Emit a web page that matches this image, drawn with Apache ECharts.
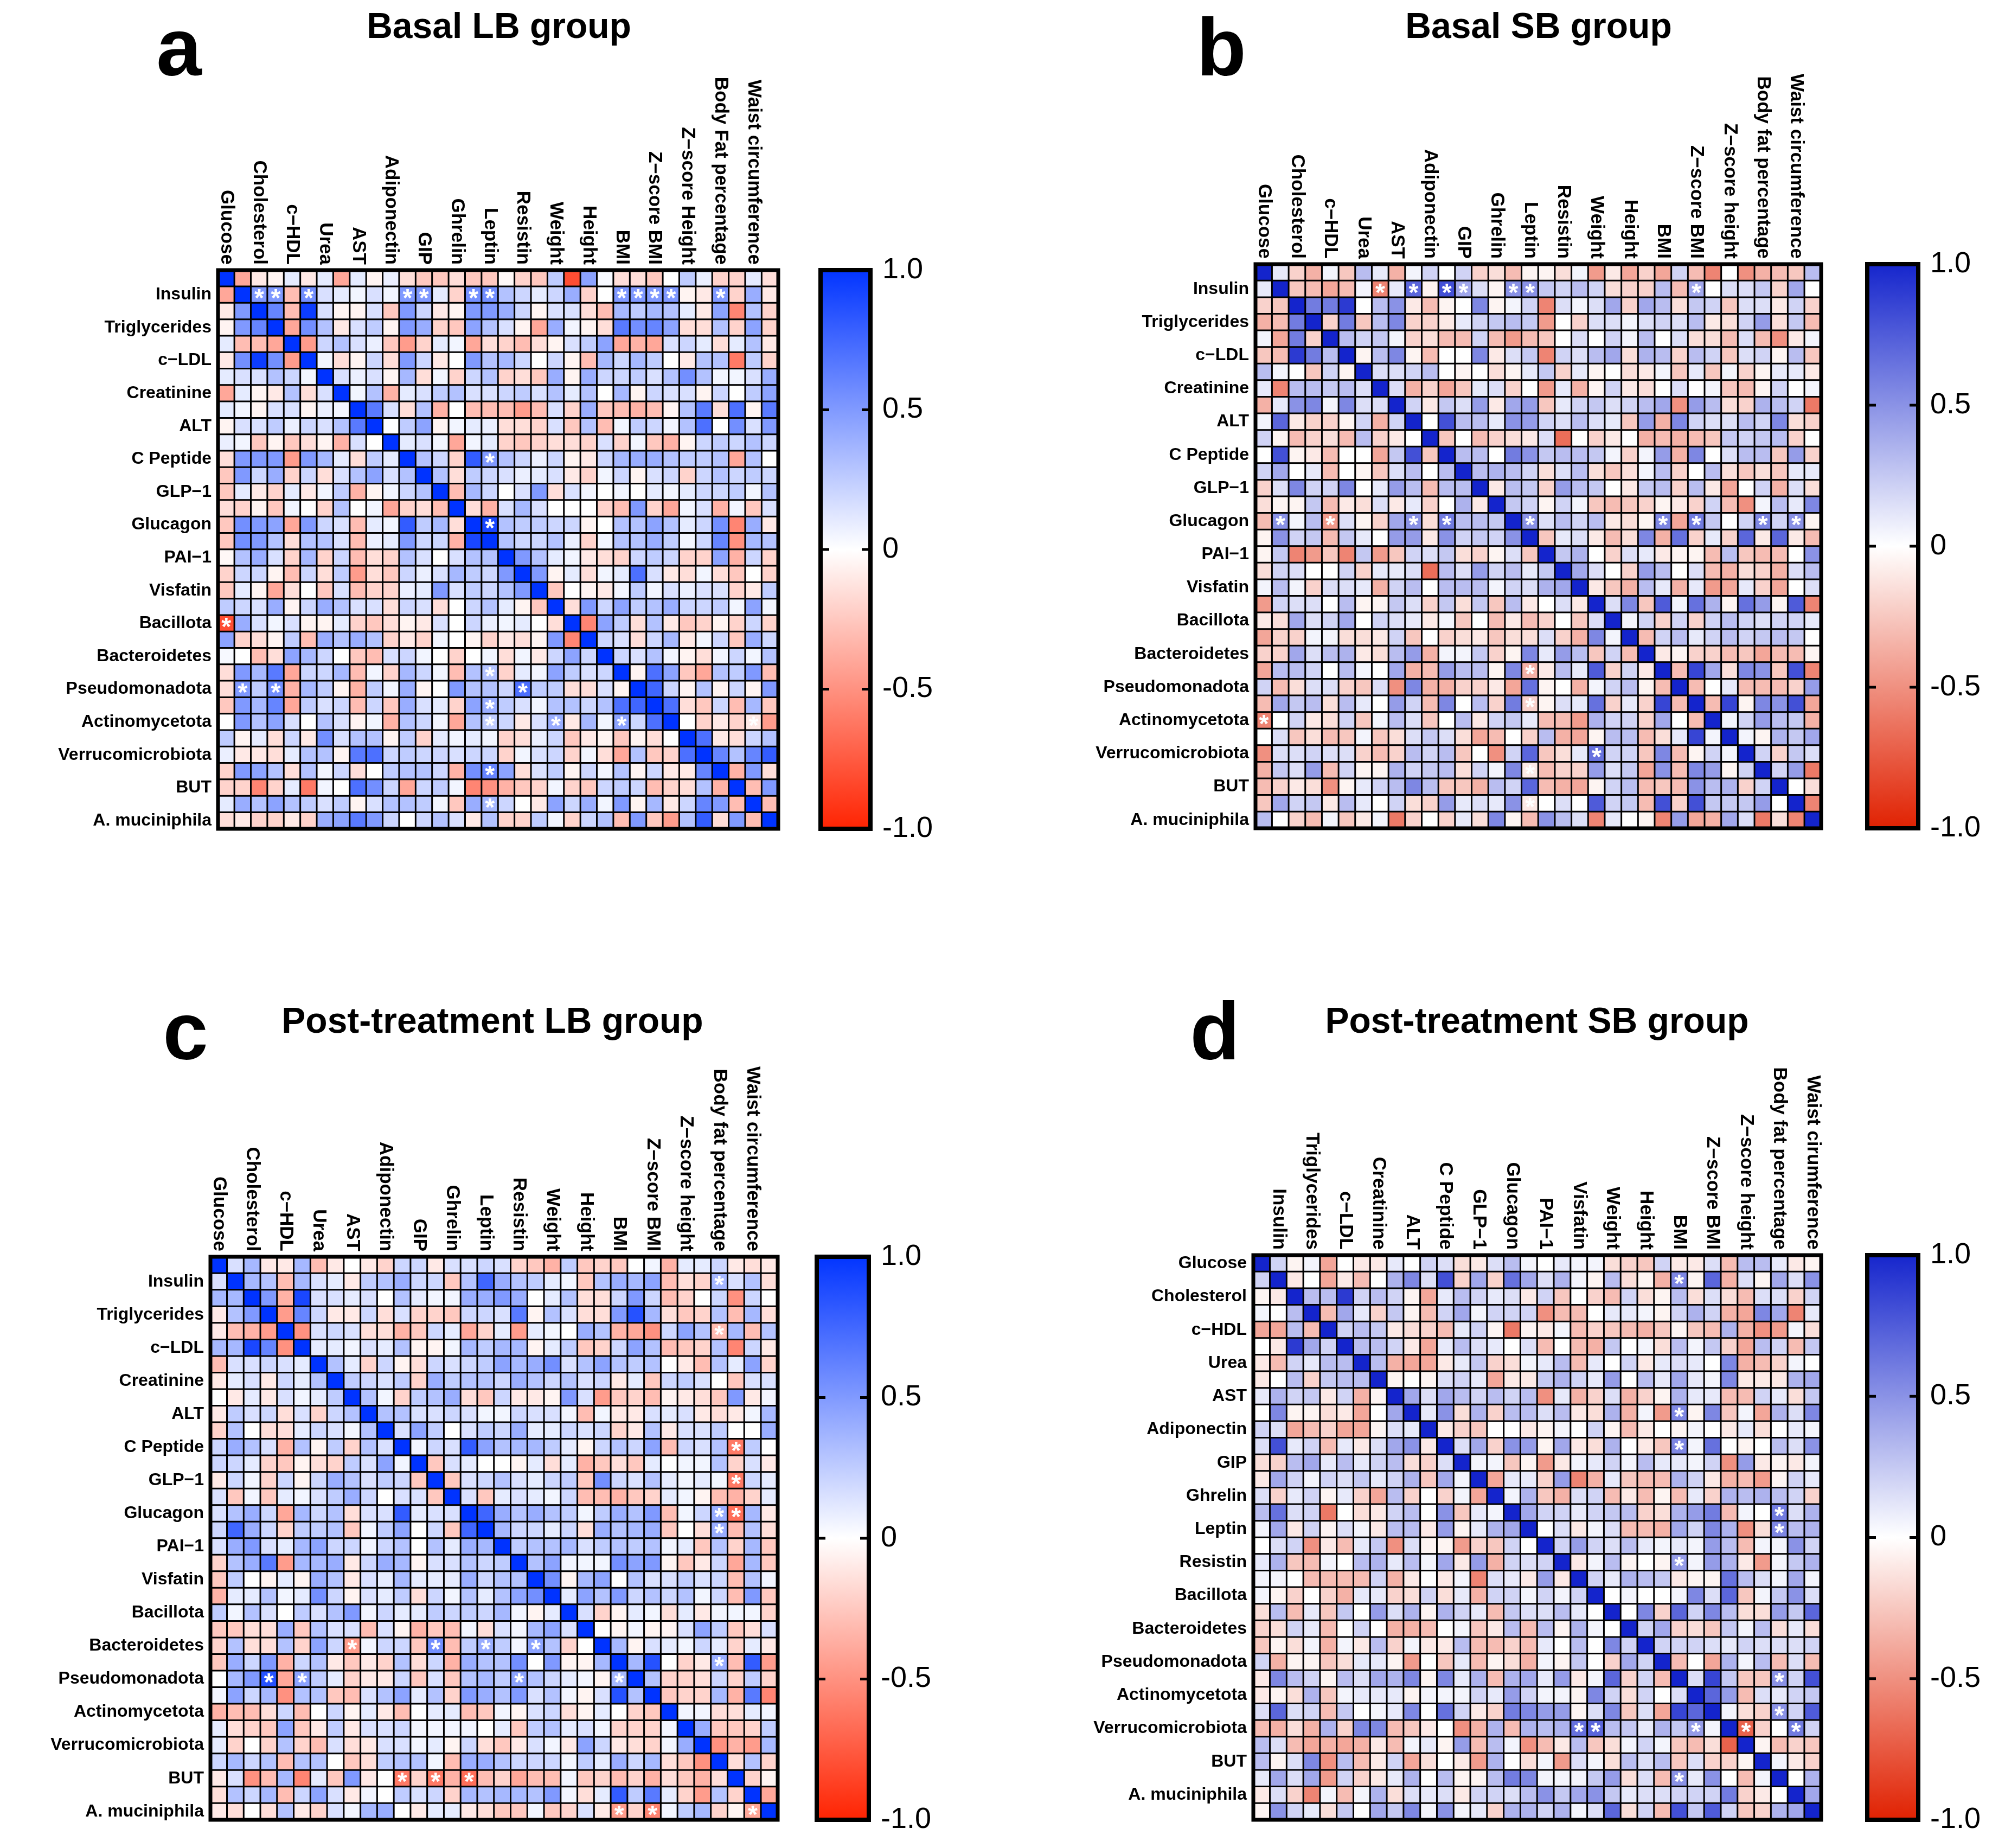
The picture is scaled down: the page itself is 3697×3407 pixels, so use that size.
<!DOCTYPE html>
<html>
<head>
<meta charset="utf-8">
<script src="https://cdn.jsdelivr.net/npm/echarts@6/dist/echarts.min.js"></script>
<style>
  html, body { margin: 0; padding: 0; background: #fff; }
  #chart { width: 3697px; height: 3407px; }
</style>
</head>
<body>
<div id="chart"></div>
<script>
// variable order (rows and columns share it); panels a-c and panel d
const varsA = ['Glucose', 'Insulin', 'Cholesterol', 'Triglycerides', 'c\u2212HDL', 'c\u2212LDL', 'Urea', 'Creatinine',
  'AST', 'ALT', 'Adiponectin', 'C Peptide', 'GIP', 'GLP\u22121', 'Ghrelin', 'Glucagon', 'Leptin', 'PAI\u22121',
  'Resistin', 'Visfatin', 'Weight', 'Bacillota', 'Height', 'Bacteroidetes', 'BMI', 'Pseudomonadota',
  'Z\u2212score BMI', 'Actinomycetota', 'Z\u2212score Height', 'Verrucomicrobiota', 'Body Fat percentage', 'BUT',
  'Waist circumference', 'A. muciniphila'];
const varsBC = varsA.map(function (v) {
  return v === 'Z\u2212score Height' ? 'Z\u2212score height' : (v === 'Body Fat percentage' ? 'Body fat percentage' : v);
});
const varsD = ['Glucose', 'Insulin', 'Cholesterol', 'Triglycerides', 'c\u2212HDL', 'c\u2212LDL', 'Urea', 'Creatinine',
  'AST', 'ALT', 'Adiponectin', 'C Peptide', 'GIP', 'GLP\u22121', 'Ghrelin', 'Glucagon', 'Leptin', 'PAI\u22121',
  'Resistin', 'Visfatin', 'Bacillota', 'Weight', 'Bacteroidetes', 'Height', 'Pseudomonadota', 'BMI',
  'Actinomycetota', 'Z\u2212score BMI', 'Verrucomicrobiota', 'Z\u2212score height', 'BUT', 'Body fat percentage',
  'A. muciniphila', 'Waist cirumference'];

const colorbarTicks = ['1.0', '0.5', '0', '-0.5', '-1.0'];

// upper triangle of each correlation matrix: row r holds columns r+1 .. 33
const upperA = [
  [-0.4,-0.1,-0.05,0.1,-0.1,0.1,-0.4,0.1,-0.05,0.08,-0.15,-0.25,-0.25,-0.15,-0.25,-0.25,-0.03,-0.2,-0.25,0.25,-0.8,0.45,0.03,-0.15,-0.15,-0.25,0,0.25,0.08,-0.2,-0.2,0.1,-0.15],
  [0.5,0.5,-0.3,0.55,0.15,0.1,0.05,0.15,0.05,0.5,0.5,0.1,-0.2,0.55,0.55,0.3,0.2,0.1,0.2,0.4,-0.2,0,0.5,0.5,0.5,0.5,-0.05,-0.1,0.5,-0.2,0.4,-0.1],
  [0.6,-0.3,0.95,0.15,-0.05,-0.05,0.15,-0.25,0.5,0.2,-0.1,-0.05,0.5,0.5,0.4,0.2,-0.05,0.15,0.15,-0.15,-0.3,0.35,0.25,0.35,0.3,0.1,-0.1,0.45,-0.55,0.3,-0.2],
  [-0.4,0.55,0.3,-0.1,0.15,0.25,-0.05,0.5,0.4,-0.2,-0.25,0.45,0.3,0.15,-0.05,-0.4,0.4,0.05,-0.05,-0.15,0.65,0.55,0.6,0.45,-0.15,-0.15,0.3,-0.2,0.45,-0.2],
  [-0.45,0.2,0.3,0.15,0.08,-0.25,-0.45,-0.2,0.1,0.05,-0.4,-0.15,-0.2,-0.3,-0.15,-0.05,0.15,0.25,0.45,-0.4,-0.35,-0.4,0.15,0.2,0.1,-0.15,0.1,0.3,-0.1],
  [0.05,-0.15,-0.05,0.2,-0.15,0.5,0.2,-0.1,0,0.5,0.3,0.35,0.2,0,0.2,-0.05,-0.3,0.35,0.2,0.35,0.25,0,-0.1,0.3,0.3,-0.6,0.25,-0.2],
  [0.15,0.08,0.15,-0.05,0.35,-0.15,0.05,-0.2,0.2,0.3,-0.2,-0.15,-0.25,0.4,-0.05,0.4,0.2,0.2,0.25,0.15,0.3,0.55,0.3,0.05,0.05,0.15,0.4],
  [0.05,0.3,-0.35,0.1,0.15,0.25,0.3,0.15,0.15,0.2,0.25,0.15,0.3,0.1,0.3,0,0.35,-0.05,0.2,0.15,0.15,-0.05,0.2,0,0.25,0.45],
  [0.65,0.15,-0.15,0.3,-0.35,0,-0.3,-0.3,-0.3,-0.45,-0.3,0.15,-0.2,0.4,-0.25,-0.3,-0.35,-0.3,-0.05,0.3,0.65,-0.15,0.7,-0.05,0.65],
  [0,0.25,0.45,-0.05,0.05,0.1,0.08,-0.15,-0.15,-0.2,0.15,-0.25,0.3,-0.3,0.05,0.25,0.2,0.05,0.3,0.7,0,0.55,0.15,0.5],
  [0.1,0.15,0.05,-0.4,0.05,0.1,-0.2,-0.25,-0.2,-0.15,-0.15,-0.2,0.15,-0.2,0.05,-0.25,-0.35,-0.05,0.2,0.25,0.2,0.3,0.2],
  [0.3,0.2,-0.2,0.8,0.5,0.3,0.2,0.08,0.2,-0.05,-0.1,0.2,0.35,0.4,0.4,0.3,0.25,0.25,0.3,-0.4,0.3,0],
  [0.3,-0.15,0.25,0.2,0.15,0.08,0.1,0.15,-0.1,-0.2,0.05,0.2,-0.05,0.15,0.2,-0.2,0.2,0.3,0.2,0.25,0.2],
  [-0.3,0.35,0.2,0,0.15,0.5,-0.15,0.15,0.05,0,0.05,0,0.1,0.05,0.1,0.2,0.2,0.25,0.05,0.3],
  [-0.15,-0.35,0.15,0.35,0.15,0,0,0,-0.2,-0.3,0.5,-0.2,-0.4,0.05,0.15,-0.35,0.05,-0.25,0.15],
  [0.9,0.3,0.25,0.25,0.2,0.2,-0.05,0,0.3,0.3,0.45,0.3,0.1,0.2,0.55,-0.55,0.4,-0.1],
  [0.3,0.2,0.2,0.3,0.08,-0.2,0.05,0.3,0.3,0.4,0.25,0.05,0.2,0.6,-0.5,0.35,0.3],
  [0.5,0.3,0.1,0.05,-0.1,-0.15,-0.2,0.2,0.25,0.2,-0.2,-0.2,0.45,-0.35,0.2,-0.2],
  [0.5,-0.05,0.1,-0.15,0.05,0.1,0.7,0.15,-0.1,-0.15,0.05,-0.15,-0.25,0,-0.2],
  [-0.25,0,-0.05,-0.1,0.05,0.25,0.05,0.15,0.08,0.15,0.15,-0.2,-0.1,0.25],
  [-0.15,0.5,0.2,0.45,0.25,0.3,0.4,0.2,0.2,0.25,0.05,0.45,0.05],
  [-0.55,0.45,0.25,-0.15,0.3,-0.1,-0.25,-0.2,-0.05,-0.2,0.2,-0.2],
  [0.2,0.15,-0.15,0.2,0.35,-0.1,0.05,0.2,-0.25,0.4,0.2],
  [0.2,0.15,0.3,0.05,-0.05,-0.15,0.05,0.2,0.05,0.3],
  [-0.05,0.7,0.45,-0.25,-0.4,0.3,0.25,0.5,-0.3],
  [0.75,0.2,-0.05,0.3,-0.05,0.2,-0.05,0.5],
  [0.7,-0.15,-0.25,0.2,-0.3,0.35,-0.25],
  [0,-0.2,-0.1,-0.2,-0.1,-0.45],
  [0.7,-0.1,-0.15,0.2,0.3],
  [0.6,0.3,0.6,0.8],
  [-0.35,0.5,-0.15],
  [-0.3,0.5],
  [-0.3]
];
const upperB = [
  [0.1,-0.2,-0.35,0.05,-0.25,0.3,0.1,-0.35,0.05,0.2,0,0.2,-0.2,-0.15,-0.3,-0.05,-0.05,-0.15,0.05,-0.45,-0.1,-0.4,-0.2,-0.4,0.2,-0.3,-0.55,0,-0.5,-0.35,-0.3,-0.25,0.3],
  [-0.25,-0.3,-0.4,-0.3,0.05,-0.55,0.1,0.7,-0.05,0.8,0.4,0.15,-0.05,0.5,0.5,0.25,0.2,0.3,0.2,-0.15,-0.2,-0.2,0.3,-0.3,0.4,0,0.15,0.15,0.25,-0.2,0.4,0],
  [0.6,0.6,0.9,0,0.3,0.5,-0.1,-0.3,-0.05,0,0.55,-0.05,0.05,0.2,-0.55,0.15,0.05,0.15,0.4,-0.2,0.4,0.3,-0.15,0.25,0.2,-0.25,0.15,0.15,-0.1,0.2,-0.2],
  [-0.2,0.6,-0.25,0.3,0.55,-0.2,-0.2,-0.1,0.1,0.2,0.25,0.3,0.25,-0.45,0,-0.2,0.15,0.15,0.05,0.15,0.2,0.15,0.3,-0.1,-0.15,0.2,0.45,-0.15,0.25,-0.3],
  [0.3,0.2,0.25,0.05,-0.2,-0.15,-0.3,-0.3,0.2,-0.3,-0.45,-0.3,-0.25,0,0.15,0,0.2,0.05,0.3,0,0.15,-0.15,-0.15,-0.3,0.15,-0.3,-0.5,-0.1,0.05],
  [-0.05,0.3,0.55,-0.05,-0.3,0,0,0.55,-0.1,0.15,0.25,-0.55,0.2,0.15,0.3,0.4,-0.15,0.35,0.3,-0.2,0.3,0.2,-0.25,0.15,0.2,-0.05,0.3,-0.25],
  [0.15,0.15,0.2,0.3,0,-0.05,0,-0.15,-0.05,0.1,0.25,-0.2,0.1,-0.05,0,-0.15,-0.1,0.05,-0.25,0.1,-0.25,0.05,-0.2,-0.05,0.1,0.1,-0.1],
  [0.15,-0.35,-0.2,-0.4,-0.25,0.1,0.15,-0.2,0,-0.45,0.1,-0.35,-0.05,0.2,-0.1,-0.15,0,0.15,0,0.05,-0.25,-0.3,-0.05,0.2,0,0.05],
  [0.2,-0.1,0.25,0.15,0.45,-0.1,0.4,0.45,-0.25,0.1,0.2,0.25,0.15,0.2,0.3,0.4,-0.5,0.45,0.3,-0.15,-0.2,0.35,0.3,0.2,-0.6],
  [0,0.8,0.3,0.3,0.1,0.5,0.45,0.2,0.15,0.3,0.15,0.1,-0.25,0.45,-0.35,0.55,0.2,0.15,0.15,0.3,0.2,0.55,-0.15,-0.2],
  [-0.25,0,-0.3,-0.2,-0.15,-0.1,0.15,-0.65,0,-0.2,-0.1,0,-0.35,-0.3,-0.35,-0.3,-0.25,0.25,0.2,0.25,0.3,-0.2,0],
  [0.3,0.3,0,0.6,0.5,0.25,0.3,0.3,0.25,0.05,-0.2,0.05,0.45,-0.35,0.55,0,0.15,0.3,0.3,-0.25,0.45,-0.2],
  [0.3,0.35,0.3,0.2,-0.15,0.15,0.3,-0.15,-0.25,-0.15,0.05,0.3,-0.2,0,0.3,-0.15,-0.25,-0.15,-0.25,0.1,0.1],
  [-0.1,0.3,0.25,-0.2,0.45,0.3,0.25,0,-0.1,0.25,0.3,-0.2,0.3,-0.1,-0.4,0,0.2,-0.35,0.15,-0.15],
  [0.25,0.2,-0.05,0.2,0.05,-0.25,-0.3,-0.25,-0.2,-0.05,-0.1,-0.2,0.2,-0.3,-0.5,0.05,0.3,0.1,0.55],
  [0.5,0.15,0.3,0.2,0.3,-0.1,-0.15,-0.05,0.55,-0.4,0.6,0.25,0,0.2,0.55,0.2,0.5,-0.05],
  [-0.25,0.1,0.15,-0.1,-0.3,-0.15,0.55,-0.35,0.65,-0.2,0.1,-0.2,0.7,-0.1,0.7,-0.1,-0.3],
  [0.25,0.35,0,-0.2,0.15,0.1,-0.1,-0.05,-0.05,-0.3,0.3,-0.25,-0.3,-0.3,0,0.5],
  [0.4,0.15,0,-0.2,0.45,0.3,0,0.15,-0.3,-0.35,-0.15,-0.2,-0.35,0.15,0.3],
  [-0.1,-0.25,-0.35,0.3,0.1,-0.35,0.1,-0.45,-0.4,0.1,-0.2,-0.4,0,0.15],
  [0.15,0.55,-0.25,0.75,0.05,0.65,0.35,-0.05,0.65,0.45,-0.05,0.75,-0.55],
  [0.05,0.2,-0.2,0.2,-0.2,0.2,0.3,0.2,0.15,0.2,0.2,0.1],
  [-0.3,0.2,0.3,0.1,0.2,0.3,0.2,0.25,0.3,0.25,0],
  [-0.1,-0.05,-0.2,-0.2,-0.3,-0.25,-0.4,-0.3,-0.3,-0.05],
  [-0.3,0.85,0.4,-0.15,0.55,0.5,-0.25,0.8,-0.55],
  [-0.3,0,0.1,-0.3,-0.3,-0.3,-0.2,0.45],
  [-0.3,0.85,-0.05,0.55,0.5,0.8,-0.4],
  [0.05,0.2,0.45,0.3,0.25,-0.35],
  [0.05,-0.05,0.35,0.25,0.4],
  [0.2,-0.2,0.25,0.15],
  [0.2,0.45,-0.6],
  [0,-0.15],
  [-0.55]
];
const upperC = [
  [0.15,0.35,-0.1,-0.1,0.35,-0.3,-0.1,0,-0.1,-0.2,0.2,0.2,-0.1,0.15,0.15,0.2,0.15,-0.2,-0.25,-0.35,0.25,-0.25,-0.2,-0.25,0,0.05,-0.35,0.1,0.1,0.2,-0.1,-0.15,-0.1],
  [0.35,0.3,-0.3,0.35,0.15,0.1,-0.1,0.25,0.3,0.4,0.2,0.2,-0.25,0.3,0.75,0.4,0.3,0.25,0.1,0.05,-0.25,0.3,0.4,0.35,0.45,-0.3,-0.15,-0.2,0.35,0.15,0.3,-0.15],
  [0.5,-0.35,0.9,0.15,0.15,0.1,0.15,0,0.3,0.1,0.05,0.05,0.4,0.4,0.5,0.4,0,0.1,0.3,-0.15,-0.15,0.2,0.5,0.2,-0.3,-0.2,0,0.2,-0.5,0.2,0],
  [-0.45,0.6,0.2,-0.1,-0.1,0.2,-0.15,0.15,-0.2,-0.2,-0.25,0.2,0.2,0.15,0.65,-0.05,0.3,0.15,-0.15,-0.15,0.5,0.85,0.35,-0.15,-0.25,-0.2,0.3,-0.3,0.35,-0.15],
  [-0.5,0.15,0.2,0.15,-0.15,-0.15,-0.35,-0.25,0.2,0.1,-0.4,-0.2,0.1,-0.45,0.1,0.05,0,0.4,0.3,-0.35,-0.4,-0.5,0.2,0.45,0.3,-0.3,0.35,-0.3,0.3],
  [0.1,0.1,0.05,0.15,0.1,0.3,-0.05,-0.05,0.05,0.35,0.25,0.35,0.35,-0.05,0.1,0.25,-0.25,-0.2,0.2,0.45,0.3,-0.3,-0.25,-0.2,0.3,-0.55,0.2,-0.1],
  [0.3,0.1,-0.2,0.2,-0.05,-0.15,0.2,0.15,0.2,0.25,0.45,0.35,0.4,0.55,0.15,0.3,0.45,0.3,0.25,0.3,0,-0.1,-0.3,0.3,0.1,0.45,-0.2],
  [0.25,0.2,0.15,0.25,-0.2,0.4,0.25,0.3,0.3,0.2,0.4,0.3,0.2,0.3,0.15,0.2,-0.1,0.1,-0.25,0.2,0.25,0.15,0,-0.25,0.15,0.15],
  [0.3,0.05,-0.2,0.25,0.3,0.4,-0.15,-0.25,0.2,-0.1,-0.1,-0.05,0.5,0.15,-0.45,-0.25,-0.2,-0.3,-0.05,-0.1,-0.15,-0.25,0.5,-0.1,0.05],
  [0.3,0.3,0.15,0.15,0.2,0.15,0.05,0.05,0.2,0.15,0.15,0.05,-0.3,0.05,-0.1,-0.1,0.15,0.1,0.15,-0.1,-0.15,-0.1,0.05,0.35],
  [0.15,0.45,0.25,0,0.15,0.25,0.2,0.4,0.1,0.1,0.2,0.15,0.2,-0.2,-0.1,0.3,-0.1,0.15,0.15,0.25,0,0,0.4],
  [0.05,0.2,0.15,0.8,0.45,0.3,0.35,0.35,0.25,0.1,-0.05,0.2,0.3,0.2,0.45,-0.3,0.2,0.15,0.3,-0.6,0.25,0],
  [-0.25,0.15,0.1,0,0,-0.05,0.1,-0.15,0.1,-0.35,-0.25,-0.15,-0.25,0.1,0,0.05,0.05,0.3,-0.2,0.15,-0.1],
  [-0.25,0.15,0.2,0.3,0.15,0.1,0.2,0.25,-0.25,0.55,0.2,0.15,0.3,0.1,0.05,0.1,0.05,-0.6,0.2,0.1],
  [0.15,-0.25,0.1,0.15,0.1,0.05,0.2,-0.3,-0.3,-0.35,-0.25,-0.2,0.1,0.05,-0.05,-0.3,-0.35,-0.2,0.1],
  [0.75,0.4,0.3,0.4,0.3,0.25,0.05,0.25,0.4,0.3,0.5,-0.3,0.05,0.2,0.4,-0.65,0.35,-0.1],
  [0.35,0.2,0.2,0.1,0.2,-0.15,0.4,0.3,0.35,0.4,-0.25,0,-0.15,0.4,-0.3,0.3,-0.15],
  [0.25,0.3,0.3,0.35,0.15,0.25,0.3,0.25,0.3,0.05,0.1,-0.25,0.3,-0.2,0.35,-0.25],
  [0.3,0.45,0.05,0.05,0.05,0.55,0.45,0.5,-0.05,-0.25,-0.1,0.2,-0.4,0.35,-0.25],
  [0.55,-0.05,0.35,0.45,0,0.3,0.15,0.15,0.25,0.15,0.2,-0.3,0.3,0.05],
  [0.1,0.45,0.3,0.5,0.2,0.3,0.2,0.3,0.05,0.2,-0.3,0.5,-0.25],
  [0.15,-0.2,-0.05,0.1,0.05,-0.15,0.1,-0.1,0.05,0.05,0.05,-0.2],
  [0,-0.05,0.05,-0.05,-0.05,0.15,0.45,0.25,-0.25,-0.15,0.15],
  [0.35,-0.05,0.15,0.1,0.05,0.2,0.1,-0.2,0.1,-0.1],
  [0.35,0.85,0,-0.2,-0.1,0.4,-0.3,0.8,-0.45],
  [0.3,-0.2,-0.2,-0.15,0.2,-0.2,0.25,-0.2],
  [-0.25,-0.2,-0.2,0.35,-0.35,0.65,-0.55],
  [0.05,0.05,-0.15,-0.15,0.1,0.05],
  [0.4,-0.25,-0.25,-0.2,0.25],
  [-0.5,-0.35,-0.45,0.35],
  [-0.15,0.3,-0.2],
  [-0.2,-0.05],
  [-0.4]
];
const upperD = [
  [0.2,-0.05,0.05,-0.4,0,-0.1,-0.1,0.1,0,0.2,0.15,-0.15,-0.1,0.15,0.3,0.05,0,0.1,0.05,0.05,-0.15,-0.2,-0.25,0.2,-0.1,-0.1,0.15,-0.3,0.3,0.3,0.1,-0.1,-0.05],
  [-0.1,0,-0.4,-0.1,-0.3,0,0.35,0.55,0.15,0.8,-0.2,0.4,-0.2,0.65,0.4,0.15,0.35,0.05,-0.05,0.3,-0.15,-0.05,-0.35,0.55,-0.05,0.7,-0.35,0.15,-0.05,0.4,0.15,0.5],
  [0.3,0.3,0.9,0.2,0.3,0.2,-0.05,-0.4,0.1,0.3,0.2,0.1,0.15,-0.1,0.2,-0.25,0,-0.2,-0.3,0.2,-0.15,-0.05,0.3,-0.15,0.15,-0.15,-0.3,0.15,0.15,-0.2,0.2],
  [-0.3,0.4,0.1,-0.2,0.25,-0.05,-0.3,0.2,0.4,0.05,0.2,0.2,0.2,-0.5,-0.3,-0.3,0,0.1,0.1,0.05,-0.05,0.2,0.35,0.2,-0.35,-0.4,0.55,0.4,-0.55,0.1],
  [0.2,0.3,0.25,-0.1,-0.15,-0.2,-0.3,0.1,0.2,-0.05,-0.6,-0.05,-0.1,0.05,-0.3,-0.2,-0.25,-0.3,-0.35,-0.25,-0.05,-0.25,-0.3,0.35,-0.35,-0.5,-0.45,0.05,-0.15],
  [0.3,0.3,0.2,-0.1,-0.4,0.1,0.3,0.15,0.1,0,0.15,-0.3,0,-0.3,-0.35,0.25,0,0.05,-0.15,0.3,0.05,0.25,-0.2,-0.4,0.3,0.2,-0.3,0.25],
  [0.3,-0.35,-0.4,-0.4,-0.1,0.1,0.25,-0.2,-0.15,0.05,0.1,0.3,-0.3,0.1,0,0.2,-0.1,0.1,0.15,0.1,0,0.55,-0.35,-0.3,-0.2,0.05,0],
  [-0.05,0,-0.05,0.15,0.2,0.1,-0.4,-0.1,-0.1,0.25,0.35,0.2,0.1,0.45,0,0.3,0.1,0.4,0.1,0.05,0.55,-0.1,-0.1,-0.1,0.35,0.4],
  [0.4,0.15,0.4,0.3,0.2,0.3,0.2,0.3,-0.5,0.1,-0.35,-0.2,0.15,-0.35,-0.2,-0.05,0.35,0.1,0.1,-0.3,-0.3,0.2,0.1,-0.15,0.25],
  [0.1,0.5,-0.15,0.35,-0.2,0.3,0.3,0.15,0.3,-0.1,-0.15,0.35,-0.35,0.05,-0.45,0.55,-0.05,0.55,-0.25,0.05,-0.4,0.35,0.15,0.55],
  [-0.1,-0.2,-0.25,0,0,-0.1,-0.05,0.05,0,0.2,-0.05,-0.3,-0.1,0,-0.05,0.05,0,-0.1,0.1,-0.15,0,0.1,0.05],
  [0.15,0.4,-0.2,0.5,0.45,-0.05,0.4,-0.1,-0.15,0.35,0,-0.1,-0.25,0.55,0.05,0.65,0,-0.05,0,0.3,0.15,0.5],
  [0.05,0.05,-0.25,-0.05,-0.45,-0.1,0.05,0.1,0.2,0.05,0.3,0.1,0.1,0.05,0.2,-0.5,0.45,-0.1,-0.05,-0.1,0.05],
  [-0.4,0.1,0.1,-0.2,0.45,-0.55,-0.35,0.1,-0.25,-0.3,-0.3,0.35,0.2,-0.1,-0.35,-0.3,-0.45,-0.05,0.2,0.1],
  [0.05,0.35,-0.25,-0.35,0.15,0.2,-0.3,-0.1,-0.3,-0.05,-0.3,0.1,-0.2,0.35,0.3,0.35,0.3,0.2,-0.2],
  [0.4,0.2,0.2,0.1,0.2,0.25,0.3,-0.2,-0.15,0.35,0.45,0.6,-0.3,0.05,0,0.6,0.15,0.35],
  [0,0.15,-0.1,0.05,0.15,-0.3,-0.3,-0.35,0.4,0.2,0.55,0.35,-0.5,-0.15,0.55,0.3,0.35],
  [0.2,0.45,0.2,0.15,0.3,0.1,0.05,0.1,0.05,0.45,0.3,-0.3,0.05,0.05,0.5,0.2],
  [-0.1,0.05,0.3,-0.05,0,-0.05,0.45,0.05,0.45,0.35,-0.1,-0.45,0.05,0.25,0.35],
  [0.2,0.1,0.35,0.3,0.25,-0.1,-0.05,-0.05,0.65,0.3,0.15,0.05,0.4,0.05],
  [0,0.05,0,0,0.05,0.55,0.15,0.7,-0.25,0.05,0.25,0.5,0.15],
  [0,0.55,-0.2,0.7,0.2,0.55,0.3,-0.15,-0.15,0.45,0.25,0.7],
  [0.2,0.4,-0.2,-0.15,-0.25,0.25,0.05,0.3,-0.15,0.1,-0.15],
  [0.2,0.2,0.2,0.15,0.1,0.2,0.15,0.15,0.15,0.2],
  [-0.3,0,-0.4,0.35,0.05,0.3,-0.3,0.15,-0.3],
  [0.15,0.85,0.25,-0.25,-0.25,0.5,0.2,0.8],
  [0.7,0.45,-0.3,0.15,0.1,0.2,0.25],
  [0.05,-0.15,-0.2,0.5,0.2,0.75],
  [-0.7,-0.2,0,0.6,0.2],
  [-0.05,-0.3,-0.2,-0.25],
  [0.05,-0.1,-0.2],
  [0,0.35],
  [0.4]
];

// significant cells, [row, column]
const starsA = [[1,2],[1,3],[1,5],[1,11],[1,12],[1,15],[1,16],[1,24],[1,25],[1,26],[1,27],[1,30],[11,16],[15,16],
  [21,0],[24,16],[25,1],[25,3],[25,18],[26,16],[27,16],[27,20],[27,24],[27,32],[30,16],[32,16]];
const starsB = [[1,7],[1,9],[1,11],[1,12],[1,15],[1,16],[1,26],[15,1],[15,4],[15,9],[15,11],[15,16],[15,24],[15,26],
  [15,30],[15,32],[24,16],[26,16],[27,0],[29,20],[30,16],[32,16]];
const starsC = [[1,30],[4,30],[11,31],[13,31],[15,30],[15,31],[16,30],[23,8],[23,13],[23,16],[23,19],[24,30],
  [25,3],[25,5],[25,18],[25,24],[31,11],[31,13],[31,15],[33,24],[33,26],[33,32]];
const starsD = [[1,25],[9,25],[11,25],[15,31],[16,31],[18,25],[25,31],[27,31],[28,19],[28,20],[28,26],[28,29],
  [28,32],[31,25]];

const BRIGHT = ['#ff2200', '#ffffff', '#0033ff'];
const NAVY = ['#e02000', '#ffffff', '#1424cc'];
const FONT = '"Liberation Sans", Arial, Helvetica, sans-serif';

const panels = [
  { letter: 'a', title: 'Basal LB group', vars: varsA, upper: upperA, stars: starsA, colors: BRIGHT, xEven: true,
    left: 402, top: 498, w: 1033, h: 1030, cbx: 1513, cbw: 92, titleX: 920, titleY: 52, letterX: 330, letterY: 98 },
  { letter: 'b', title: 'Basal SB group', vars: varsBC, upper: upperB, stars: starsB, colors: NAVY, xEven: true,
    left: 2315, top: 487, w: 1043, h: 1040, cbx: 3443, cbw: 94, titleX: 2837, titleY: 52, letterX: 2252, letterY: 98 },
  { letter: 'c', title: 'Post-treatment LB group', vars: varsBC, upper: upperC, stars: starsC, colors: BRIGHT, xEven: true,
    left: 388, top: 2317, w: 1046, h: 1038, cbx: 1506, cbw: 96, titleX: 908, titleY: 1886, letterX: 342, letterY: 1912 },
  { letter: 'd', title: 'Post-treatment SB group', vars: varsD, upper: upperD, stars: starsD, colors: NAVY, xEven: false,
    left: 2311, top: 2314, w: 1047, h: 1041, cbx: 3443, cbw: 94, titleX: 2834, titleY: 1886, letterX: 2240, letterY: 1912 }
];

function buildData(upper) {
  const n = upper.length + 1;
  const m = [];
  for (let r = 0; r < n; r++) { m.push(new Array(n).fill(0)); m[r][r] = 1; }
  upper.forEach(function (row, r) {
    row.forEach(function (v, k) { const c = r + 1 + k; if (c < n) { m[r][c] = v; m[c][r] = v; } });
  });
  const data = [];
  for (let r = 0; r < n; r++) for (let c = 0; c < n; c++) data.push([c, r, m[r][c]]);
  return data;
}

const option = {
  animation: false,
  backgroundColor: '#fff',
  grid: [], xAxis: [], yAxis: [], series: [], visualMap: [], graphic: []
};

panels.forEach(function (p, i) {
  const starSet = new Set(p.stars.map(function (s) { return s[0] + '_' + s[1]; }));
  option.grid.push({ left: p.left, top: p.top, width: p.w, height: p.h });
  option.xAxis.push({
    type: 'category', gridIndex: i, position: 'top', data: p.vars,
    axisLine: { show: false }, axisTick: { show: false }, splitLine: { show: false },
    axisLabel: {
      rotate: 90, margin: 10, fontSize: 35, fontWeight: 'bold', color: '#000', fontFamily: FONT,
      interval: function (idx) { return p.xEven ? idx % 2 === 0 : idx % 2 === 1; }
    }
  });
  option.yAxis.push({
    type: 'category', gridIndex: i, inverse: true, data: p.vars,
    axisLine: { show: false }, axisTick: { show: false }, splitLine: { show: false },
    axisLabel: {
      margin: 12, fontSize: 32, fontWeight: 'bold', color: '#000', fontFamily: FONT,
      interval: function (idx) { return p.xEven ? idx % 2 === 1 : idx % 2 === 0; }
    }
  });
  option.visualMap.push({
    show: false, seriesIndex: i, min: -1, max: 1, dimension: 2, calculable: false,
    inRange: { color: p.colors }
  });
  option.series.push({
    type: 'heatmap', xAxisIndex: i, yAxisIndex: i, data: buildData(p.upper),
    itemStyle: { borderColor: '#000', borderWidth: 3 },
    label: {
      show: true, color: '#fff', fontSize: 46, fontWeight: 'bold', fontFamily: FONT, offset: [0, 9],
      formatter: function (prm) { return starSet.has(prm.value[1] + '_' + prm.value[0]) ? '*' : ''; }
    },
    emphasis: { disabled: true }
  });

  // outer frame of the matrix
  option.graphic.push({
    type: 'rect', z: 100, silent: true,
    shape: { x: p.left, y: p.top, width: p.w, height: p.h },
    style: { fill: 'none', stroke: '#000', lineWidth: 7 }
  });
  // title and panel letter
  option.graphic.push({
    type: 'text', x: p.titleX, y: p.titleY,
    style: { text: p.title, font: 'bold 66px "Liberation Sans Narrow", "Liberation Sans", Arial', fill: '#000',
      textAlign: 'center', textVerticalAlign: 'middle' }
  });
  option.graphic.push({
    type: 'text', x: p.letterX, y: p.letterY,
    style: { text: p.letter, font: 'bold 150px "Liberation Sans", Arial', fill: '#000',
      textAlign: 'center', textVerticalAlign: 'middle' }
  });
  // colour bar
  option.graphic.push({
    type: 'rect', z: 50,
    shape: { x: p.cbx, y: p.top, width: p.cbw, height: p.h },
    style: {
      stroke: '#000', lineWidth: 8,
      fill: new echarts.graphic.LinearGradient(0, 0, 0, 1, [
        { offset: 0, color: p.colors[2] }, { offset: 0.5, color: p.colors[1] }, { offset: 1, color: p.colors[0] }
      ])
    }
  });
  colorbarTicks.forEach(function (t, k) {
    const y = p.top + p.h * k / 4;
    if (k > 0 && k < 4) {
      option.graphic.push({ type: 'line', z: 51, shape: { x1: p.cbx, y1: y, x2: p.cbx + 16, y2: y },
        style: { stroke: '#000', lineWidth: 5 } });
      option.graphic.push({ type: 'line', z: 51, shape: { x1: p.cbx + p.cbw - 16, y1: y, x2: p.cbx + p.cbw, y2: y },
        style: { stroke: '#000', lineWidth: 5 } });
    }
    option.graphic.push({
      type: 'text', x: p.cbx + p.cbw + 22, y: y,
      style: { text: t, font: '54px "Liberation Sans", Arial', fill: '#000', textVerticalAlign: 'middle' }
    });
  });
});

const chart = echarts.init(document.getElementById('chart'));
chart.setOption(option);
</script>
</body>
</html>
